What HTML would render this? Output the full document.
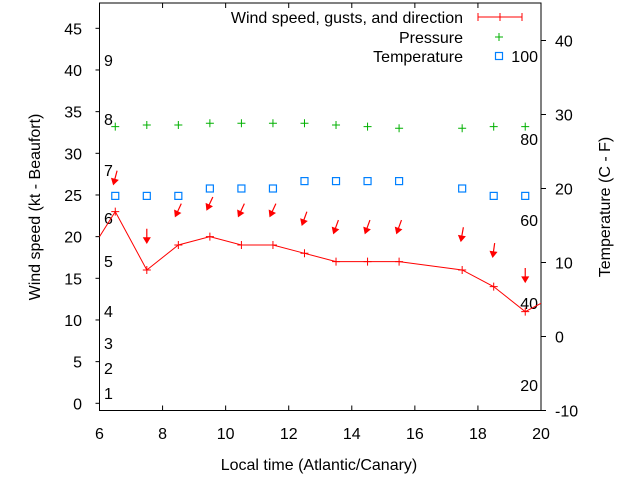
<!DOCTYPE html>
<html><head><meta charset="utf-8"><style>
body{margin:0;background:#fff}
svg text{font-family:"Liberation Sans",sans-serif;font-size:16px;fill:#000}
</style></head><body>
<svg id="c" width="640" height="480" xmlns="http://www.w3.org/2000/svg"></svg>
<script>
const hours=[5.5,6.5,7.5,8.5,9.5,10.5,11.5,12.5,13.5,14.5,15.5,17.5,18.5,19.5,20.5];
const windSpeed=[17,23,16,19,20,19,19,18,17,17,17,16,14,11,13];
const obsHours=[6.5,7.5,8.5,9.5,10.5,11.5,12.5,13.5,14.5,15.5,17.5,18.5,19.5];
const gusts=[27.1,20.1,23.2,24,23.2,23.2,22.2,21.2,21.2,21.2,20.3,18.4,15.4];
const windDir=[15,0,25,25,25,25,20,20,20,20,10,8,0];
const pressure=[33.2,33.4,33.4,33.6,33.6,33.6,33.6,33.4,33.2,33.0,33.0,33.2,33.2];
const temperature=[19,19,19,20,20,20,21,21,21,21,20,19,19];
const xTicks=[6,8,10,12,14,16,18,20];
const yTicks=[0,5,10,15,20,25,30,35,40,45];
const y2Ticks=[-10,0,10,20,30,40];
const beaufort=[["1",393],["2",368],["3",343],["4",311],["5",261],["6",218],["7",170],["8",119],["9",60]];
const fahr=[["100",56],["80",139],["60",220],["40",303],["20",385]];
const L=99.5,R=541,T=3,B=410.5;
const X=h=>L+(h-6)*(R-L)/14;
const Y=v=>403.3-v*8.333;
const Y2=t=>410.5-(t+10)*7.4;
const svg=document.getElementById('c');const NS='http://www.w3.org/2000/svg';
function el(tag,a,txt){const e=document.createElementNS(NS,tag);for(const k in a)e.setAttribute(k,a[k]);if(txt!==undefined)e.textContent=txt;svg.appendChild(e);return e;}
const defs=el('defs',{});
const cp=document.createElementNS(NS,'clipPath');cp.setAttribute('id','clip');
const cr=document.createElementNS(NS,'rect');cr.setAttribute('x',L);cr.setAttribute('y',T);cr.setAttribute('width',R-L);cr.setAttribute('height',B-T);cp.appendChild(cr);defs.appendChild(cp);
let f=el('rect',{x:L,y:T,width:R-L,height:B-T,fill:'none',stroke:'#000','stroke-width':1});


xTicks.forEach(t=>{
 let l=el('line',{x1:X(t),x2:X(t),y1:B,y2:B-5,stroke:'#000'});
 
 
 let l2=el('line',{x1:X(t),x2:X(t),y1:T,y2:T+5,stroke:'#000'});
 
 
 let tx=el('text',{x:X(t),y:439,'text-anchor':'middle'},t);
 
 
});
yTicks.forEach(t=>{
 let l=el('line',{x1:L-4,x2:L,y1:Y(t),y2:Y(t),stroke:'#000'});
 
 
 let tx=el('text',{x:82,y:Y(t)+6,'text-anchor':'end'},t);
 
 
});
y2Ticks.forEach(t=>{
 let l=el('line',{x1:R,x2:R+5,y1:Y2(t),y2:Y2(t),stroke:'#000'});
 
 
 let tx=el('text',{x:555,y:Y2(t)+6,'text-anchor':'start'},t);
 
 
});
beaufort.forEach(b=>{let tx=el('text',{x:104,y:b[1]+6},b[0]);
 
 });
fahr.forEach(b=>{let tx=el('text',{x:538,y:b[1]+6,'text-anchor':'end'},b[0]);
 
 });
let xt=el('text',{x:319,y:470,'text-anchor':'middle'},'Local time (Atlantic/Canary)');

let yt=el('text',{x:0,y:0,'text-anchor':'middle',transform:'translate(40,207) rotate(-90)'},'Wind speed (kt - Beaufort)');

let y2t=el('text',{x:0,y:0,'text-anchor':'middle',transform:'translate(610,207) rotate(-90)'},'Temperature (C - F)');

const g=el('g',{'clip-path':'url(#clip)'});
function ce(tag,a){const e=document.createElementNS(NS,tag);for(const k in a)e.setAttribute(k,a[k]);g.appendChild(e);return e;}
let wl=ce('polyline',{points:hours.map((h,i)=>X(h)+','+Y(windSpeed[i])).join(' '),fill:'none',stroke:'#f00','stroke-width':1});


hours.forEach((h,i)=>{const x=X(h),y=Y(windSpeed[i]);
 let p=ce('path',{d:`M${x-4},${y}H${x+4}M${x},${y-4}V${y+4}`,stroke:'#f00'});
 
 });
obsHours.forEach((h,i)=>{
 const cx=X(h),cy=Y(gusts[i]),a=windDir[i]*Math.PI/180,len=14;
 const dx=Math.sin(a),dy=-Math.cos(a);
 const tx=cx+dx*len/2,ty=cy+dy*len/2,hx=cx-dx*len/2,hy=cy-dy*len/2;
 const px=-dy,py=dx;
 const bx=hx+dx*5,by=hy+dy*5;
 let ar=ce('path',{d:`M${tx},${ty}L${hx},${hy}M${bx+px*3},${by+py*3}L${hx},${hy}L${bx-px*3},${by-py*3}Z`,stroke:'#f00',fill:'#f00','stroke-width':1.2});
 
 
 let pr=ce('path',{d:`M${cx-4},${Y(pressure[i])}H${cx+4}M${cx},${Y(pressure[i])-4}V${Y(pressure[i])+4}`,stroke:'#00b000'});
 
 
 let sq=ce('rect',{x:cx-3.5,y:Y2(temperature[i])-3.5,width:7,height:7,fill:'none',stroke:'#0080ff','stroke-width':1.2});
 
 
});
const lg=[['Wind speed, gusts, and direction',17],['Pressure',37],['Temperature',56]];
lg.forEach(l=>{let t=el('text',{x:463,y:l[1]+6,'text-anchor':'end'},l[0]);
 });
let ls=el('path',{d:'M478,17H522M478,13V21M522,13V21M500,13V21',stroke:'#f00'});

let lp=el('path',{d:'M495,37H503M499,33V41',stroke:'#00b000'});

let lt=el('rect',{x:495.5,y:52.5,width:7,height:7,fill:'none',stroke:'#0080ff','stroke-width':1.2});

</script>
</body></html>
